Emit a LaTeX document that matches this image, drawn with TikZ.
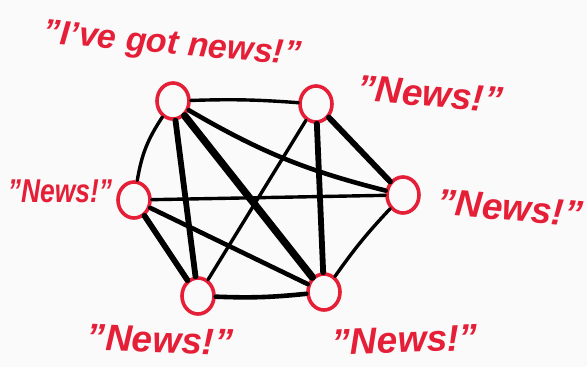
\documentclass[tikz,border=0pt]{standalone}
\usepackage{fontspec}
\setmainfont{Liberation Sans}
\usepackage{tikz}
\usetikzlibrary{shapes.geometric}
\definecolor{newsred}{HTML}{E51F37}
\definecolor{paper}{HTML}{FAFAFA}

\begin{document}
\begin{tikzpicture}[x=1pt, y=-1pt,
  pnode/.style={ellipse, draw=newsred, line width=3.6pt, minimum width=32pt, minimum height=36pt, inner sep=0pt},
  say/.style={text=newsred, font=\fontsize{37}{37}\selectfont\bfseries\itshape, inner sep=0pt},
  e1/.style={draw=black, line width=3.4pt, line cap=round},
  e2/.style={e1, line width=4.6pt},
  e3/.style={e1, line width=5.8pt},
  e4/.style={e1, line width=7.4pt}]
\fill[paper] (0,0) rectangle (587,367);
\useasboundingbox (0,0) rectangle (587,367);
\node[pnode] (a) at (173,101) {};
\node[pnode] (b) at (316,104) {};
\node[pnode] (c) at (403,195) {};
\node[pnode] (d) at (324,292) {};
\node[pnode] (e) at (198,296) {};
\node[pnode] (f) at (134,200) {};
\node[say, rotate=-5, font=\fontsize{34}{34}\selectfont\bfseries\itshape] (sa) at (172,46) {"I've got news!"};
\node[say, rotate=-5] (sb) at (430,94) {"News!"};
\node[say, rotate=-5] (sc) at (510,208) {"News!"};
\node[say, xscale=0.8, font=\fontsize{33}{33}\selectfont\bfseries\itshape] (sf) at (60,191) {"News!"};
\node[say, rotate=-2] (se) at (160,340) {"News!"};
\node[say, rotate=2] (sd) at (405,340) {"News!"};
\draw[e1] (a) to[bend left=3] (b);
\draw[e1] (a) to[bend right=12] (f);
\draw[e2] (a) to[bend right=8] (c);
\draw[e3] (a) -- (e);
\draw[e4] (a) -- (d);
\draw[e3] (b) -- (c);
\draw[e3] (b) -- (d);
\draw[e1] (b) -- (e);
\draw[e1] (f) -- (c);
\draw[e2] (f) -- (d);
\draw[e3] (f) -- (e);
\draw[e2] (e) to[bend right=4] (d);
\draw[e1] (c) to[bend right=4] (d);
\end{tikzpicture}
\end{document}
